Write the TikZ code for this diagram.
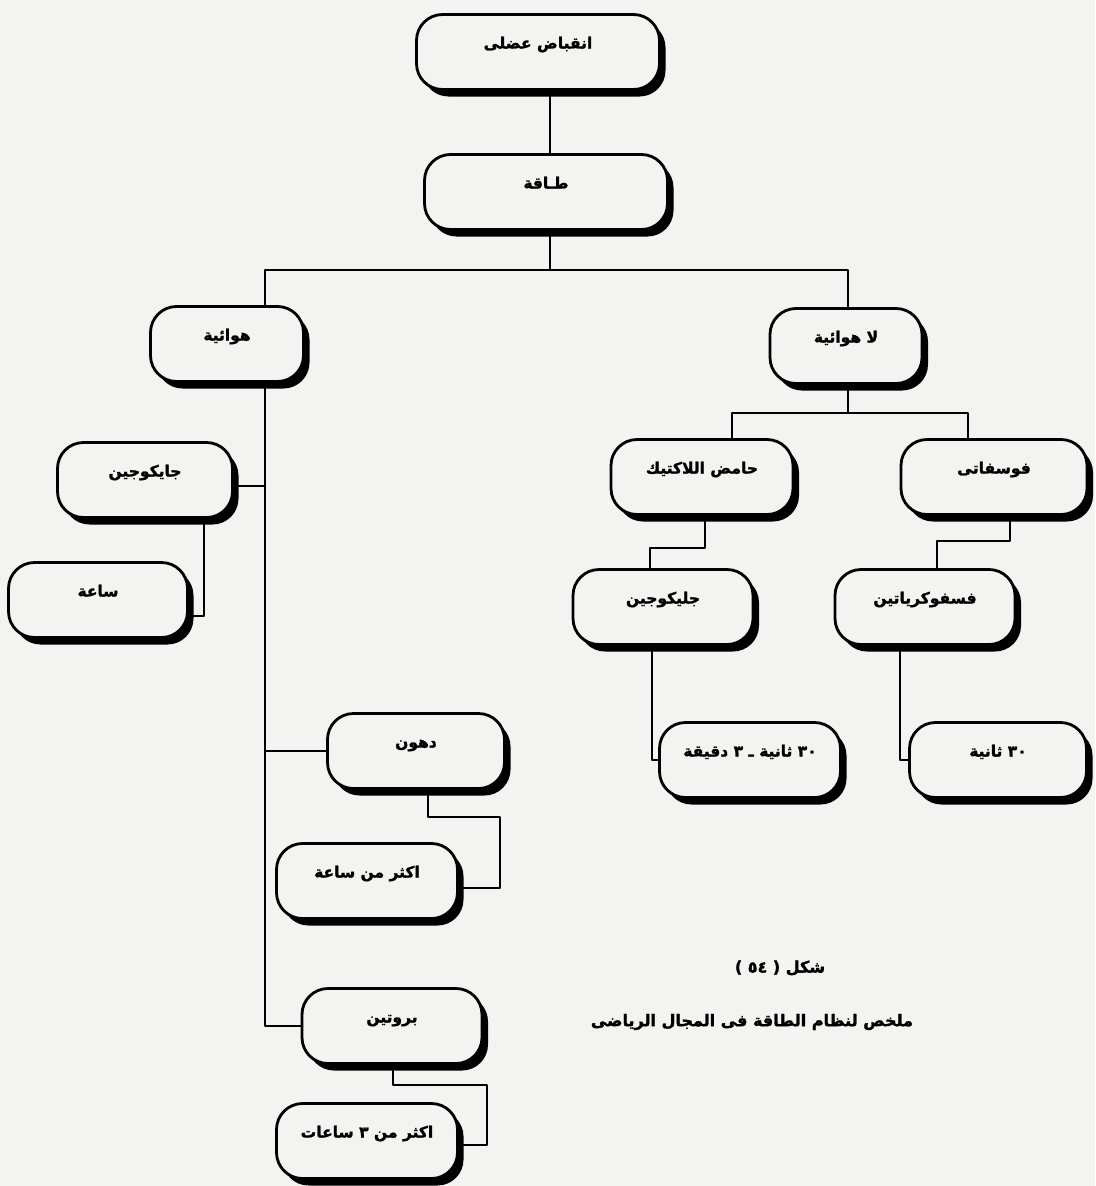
\documentclass[tikz,border=0pt]{standalone}
\usepackage{fontspec}
\newfontfamily\arabicfont[Script=Arabic, BoldFeatures={FakeBold=1.6}]{DejaVu Sans}
\TeXXeTstate=1
\usetikzlibrary{shadows}
\definecolor{papier}{RGB}{243,243,241}
\newcommand{\ar}[1]{\arabicfont\bfseries\beginR #1\endR}

\begin{document}
\begin{tikzpicture}[x=1pt, y=-1pt, line join=round, line cap=round,
    boite/.style={draw, line width=2.8pt, rounded corners=26pt, fill=papier,
      minimum height=75pt, text height=26pt, text depth=33pt, inner sep=4pt,
      font=\fontsize{15.5}{18}\selectfont,
      drop shadow={shadow xshift=6pt, shadow yshift=-7pt, fill=black, opacity=1}},
    lien/.style={line width=2.2pt},
    legende/.style={font=\fontsize{16}{19}\selectfont}]
  \fill[papier] (0,0) rectangle (1095,1186);
  % les boites
  \node[boite, minimum width=243pt] (inqibad) at (538,52) {\ar{انقباض عضلى}};
  \node[boite, minimum width=243pt] (taqa) at (546,192) {\ar{طـاقة}};
  \node[boite, minimum width=153pt] (hawaiya) at (227,344) {\ar{هوائية}};
  \node[boite, minimum width=152pt] (lahawaiya) at (846,346) {\ar{لا هوائية}};
  \node[boite, minimum width=182pt] (lactic) at (702,477) {\ar{حامض اللاكتيك}};
  \node[boite, minimum width=186pt] (fosfati) at (994,477) {\ar{فوسفاتى}};
  \node[boite, minimum width=180pt] (glyR) at (663,607) {\ar{جليكوجين}};
  \node[boite, minimum width=180pt] (fosfoc) at (925,607) {\ar{فسفوكرياتين}};
  \node[boite, minimum width=181pt] (zamanL) at (750,760) {\ar{\beginL ٣٠\endL{} ثانية ـ \beginL ٣\endL{} دقيقة}};
  \node[boite, minimum width=177pt] (zamanP) at (998,760) {\ar{\beginL ٣٠\endL{} ثانية}};
  \node[boite, minimum width=175pt] (glyL) at (145,480) {\ar{جايكوجين}};
  \node[boite, minimum width=179pt] (saa) at (98,600) {\ar{ساعة}};
  \node[boite, minimum width=177pt] (duhun) at (416,751) {\ar{دهون}};
  \node[boite, minimum width=181pt] (aktharS) at (367,881) {\ar{اكثر من ساعة}};
  \node[boite, minimum width=180pt] (brotin) at (392,1026) {\ar{بروتين}};
  \node[boite, minimum width=181pt] (aktharT) at (367,1141) {\ar{اكثر من \beginL ٣\endL{} ساعات}};
  % les liens
  \coordinate (barL) at (265,270);
  \coordinate (barR) at (848,270);
  \coordinate (bar2L) at (732,413);
  \coordinate (bar2R) at (968,413);
  \draw[lien] ([xshift=12pt]inqibad.south) -- ([xshift=4pt]taqa.north);
  \draw[lien] ([xshift=4pt]taqa.south) -- ([xshift=4pt]taqa.south |- barL);
  \draw[lien] (barL |- hawaiya.north) -- (barL) -- (barR) -- (barR |- lahawaiya.north);
  \draw[lien] (barL |- hawaiya.south) -- (barL |- brotin.west) -- (brotin.west);
  \draw[lien] ([yshift=-6pt]glyL.east) -- ([yshift=-6pt]glyL.east -| barL);
  \draw[lien] (duhun.west) -- (duhun.west -| barL);
  \draw[lien] ([xshift=59pt]glyL.south) |- ([yshift=-16pt]saa.east);
  \draw[lien] ([xshift=12pt]duhun.south) -- ++(0,27) -- ++(72,0) |- ([yshift=-7pt]aktharS.east);
  \draw[lien] ([xshift=1pt]brotin.south) -- ++(0,20) -- ++(94,0) |- ([yshift=-4pt]aktharT.east);
  \draw[lien] ([xshift=2pt]lahawaiya.south) -- ([xshift=2pt]lahawaiya.south |- bar2L);
  \draw[lien] (bar2L |- lactic.north) -- (bar2L) -- (bar2R) -- (bar2R |- fosfati.north);
  \draw[lien] ([xshift=3pt]lactic.south) -- ++(0,32) -| ([xshift=-13pt]glyR.north);
  \draw[lien] ([xshift=16pt]fosfati.south) -- ++(0,25) -| ([xshift=12pt]fosfoc.north);
  \draw[lien] ([xshift=-11pt]glyR.south) |- (zamanL.west);
  \draw[lien] ([xshift=-25pt]fosfoc.south) |- (zamanP.west);
  % la legende
  \node[legende] (shakl) at (780,968) {\ar{شكل ( ٥٤ )}};
  \node[legende] (mulakhas) at (752,1022) {\ar{ملخص لنظام الطاقة فى المجال الرياضى}};
\end{tikzpicture}
\end{document}
